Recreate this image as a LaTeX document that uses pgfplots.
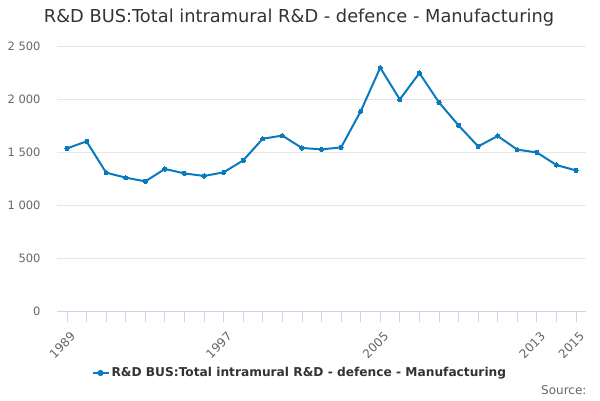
\documentclass[border=0pt]{standalone}
\usepackage{pgfplots}
\pgfplotsset{compat=1.18}
\usepackage{fontspec}
\setmainfont{DejaVu Sans}
\definecolor{linec}{RGB}{10,122,190}
\definecolor{gridc}{RGB}{230,230,230}
\definecolor{tickc}{RGB}{204,214,235}
\definecolor{titc}{RGB}{51,51,51}
\definecolor{labc}{RGB}{102,102,102}
\begin{document}
\begin{tikzpicture}[x=1pt,y=1pt]
\path[use as bounding box] (0,0) rectangle (600,400);
\node[text=titc,font=\fontsize{17.8}{20}\selectfont] at (299,382) {R\&D BUS:Total intramural R\&D - defence - Manufacturing};
\node[text=labc,font=\fontsize{12}{14}\selectfont,anchor=east] at (590,10) {Source:};
\begin{axis}[
  at={(57pt,89pt)}, anchor=south west,
  scale only axis, width=529pt, height=265pt,
  xmin=1988.49, xmax=2015.51, ymin=0, ymax=2500,
  axis x line*=bottom, axis y line*=left,
  x axis line style={draw=tickc,line width=0.8pt,-},
  y axis line style={draw=none},
  xtick={1989,1997,2005,2013,2015},
  xticklabels={1989,1997,2005,2013,2015},
  minor xtick={1990,...,1996,1998,1999,...,2004,2006,2007,...,2012,2014},
  xtick style={draw=tickc,line width=0.8pt},
  minor x tick style={draw=tickc,line width=0.8pt},
  major tick length=11pt, minor tick length=11pt,
  tick align=outside,
  x tick label style={rotate=45,anchor=north east,text=labc,font=\fontsize{12}{14}\selectfont,yshift=-5pt,xshift=-1pt},
  ytick={0,500,1000,1500,2000,2500},
  yticklabels={0,500,1 000,1 500,2 000,2 500},
  ymajorgrids, grid style={draw=gridc,line width=0.8pt},
  y tick label style={text=labc,font=\fontsize{11.5}{14}\selectfont,xshift=-2pt},
  ytick style={draw=none},
  clip=false,
  legend style={at={(0.459,-0.234)},anchor=center,draw=none,fill=none,
    font=\fontsize{12.2}{14}\selectfont\bfseries,text=titc},
  legend image code/.code={\draw[linec,line width=2pt] (0pt,0pt) -- (16pt,0pt);
    \fill[linec] (8pt,0pt) circle (2pt);},
]
\addplot[linec,line width=2pt,mark=*,mark size=2.1pt,mark options={fill=linec,draw=linec,line width=0pt}] coordinates {
(1989,1534) (1990,1600) (1991,1305) (1992,1258) (1993,1223) (1994,1340)
(1995,1298) (1996,1274) (1997,1308) (1998,1421) (1999,1625) (2000,1655)
(2001,1538) (2002,1525) (2003,1543) (2004,1883) (2005,2295) (2006,1996)
(2007,2245) (2008,1968) (2009,1751) (2010,1553) (2011,1651) (2012,1522)
(2013,1496) (2014,1377) (2015,1326)
};
\addlegendentry{R\&D BUS:Total intramural R\&D - defence - Manufacturing}
\end{axis}
\end{tikzpicture}
\end{document}
